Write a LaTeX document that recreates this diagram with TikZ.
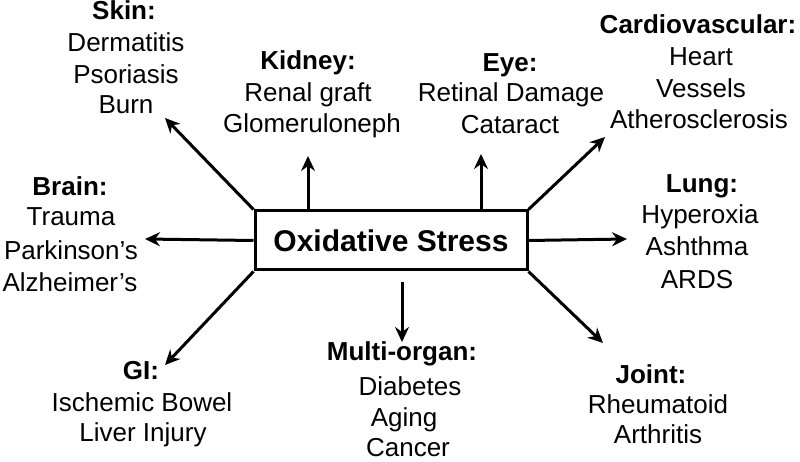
\documentclass[tikz,border=0pt]{standalone}
\usepackage{fontspec}
\setmainfont{Liberation Sans}
\usetikzlibrary{arrows.meta}
\begin{document}
\begin{tikzpicture}[x=1pt,y=-1pt,line width=3pt,
  arr/.style={-{Stealth[length=15pt,width=14pt,inset=5pt]}},
  lab/.style={anchor=base,inner sep=0pt,font=\fontsize{26}{30}\selectfont},
  hdr/.style={anchor=base,inner sep=0pt,font=\fontsize{26}{30}\selectfont\bfseries}]
\useasboundingbox (0,0) rectangle (800,462);
\fill[white] (0,0) rectangle (800,462);
% central box
\node[draw,minimum width=272pt,minimum height=59pt,inner sep=0pt,
  font=\fontsize{30}{36}\selectfont\bfseries] (box) at (391,240.5) {Oxidative Stress};
% free ends of the connectors
\coordinate (skintip) at (165,118);
\coordinate (kidtip) at (308,156);
\coordinate (eyetip) at (481,154);
\coordinate (cardtip) at (605,137);
\coordinate (braintip) at (145,239);
\coordinate (lungtip) at (627,239);
\coordinate (gitip) at (165,365);
\coordinate (multistart) at (402,282);
\coordinate (multitip) at (402,342);
\coordinate (jointtip) at (603,343);
% connectors
\draw[arr] (box.north west) -- (skintip);
\draw[arr] (kidtip |- box.north) -- (kidtip);
\draw[arr] (eyetip |- box.north) -- (eyetip);
\draw[arr] (box.north east) -- (cardtip);
\draw[arr] (box.west) -- (braintip);
\draw[arr] (box.east) -- (lungtip);
\draw[arr] (box.south west) -- (gitip);
\draw[arr] (multistart) -- (multitip);
\draw[arr] (box.south east) -- (jointtip);
% Skin
\node[hdr] (skin0) at (124,20) {Skin:};
\node[lab] (skin1) at (126,52) {Dermatitis};
\node[lab] (skin2) at (126,84) {Psoriasis};
\node[lab] (skin3) at (126,114) {Burn};
% Kidney
\node[hdr] (kid0) at (308,70) {Kidney:};
\node[lab] (kid1) at (308,102) {Renal graft};
\node[lab] (kid2) at (312,133) {Glomeruloneph};
% Eye
\node[hdr] (eye0) at (510,72) {Eye:};
\node[lab] (eye1) at (511,102) {Retinal Damage};
\node[lab] (eye2) at (510,134) {Cataract};
% Cardiovascular
\node[hdr] (card0) at (698,34) {Cardiovascular:};
\node[lab] (card1) at (701,66) {Heart};
\node[lab] (card2) at (701,98) {Vessels};
\node[lab] (card3) at (699,129) {Atherosclerosis};
% Brain
\node[hdr] (brain0) at (70,196) {Brain:};
\node[lab] (brain1) at (71,226) {Trauma};
\node[lab] (brain2) at (71,259) {Parkinson’s};
\node[lab] (brain3) at (70,291) {Alzheimer’s};
% Lung
\node[hdr] (lung0) at (702,193) {Lung:};
\node[lab] (lung1) at (700,224) {Hyperoxia};
\node[lab] (lung2) at (697,256) {Ashthma};
\node[lab] (lung3) at (697,288) {ARDS};
% GI
\node[hdr] (gi0) at (141,379) {GI:};
\node[lab] (gi1) at (142,411) {Ischemic Bowel};
\node[lab] (gi2) at (143,441) {Liver Injury};
% Multi-organ
\node[hdr] (multi0) at (402,360) {Multi-organ:};
\node[lab] (multi1) at (410,395) {Diabetes};
\node[lab] (multi2) at (404,426) {Aging};
\node[lab] (multi3) at (408,456) {Cancer};
% Joint
\node[hdr] (joint0) at (651,383) {Joint:};
\node[lab] (joint1) at (658,413) {Rheumatoid};
\node[lab] (joint2) at (658,443) {Arthritis};
\end{tikzpicture}
\end{document}
